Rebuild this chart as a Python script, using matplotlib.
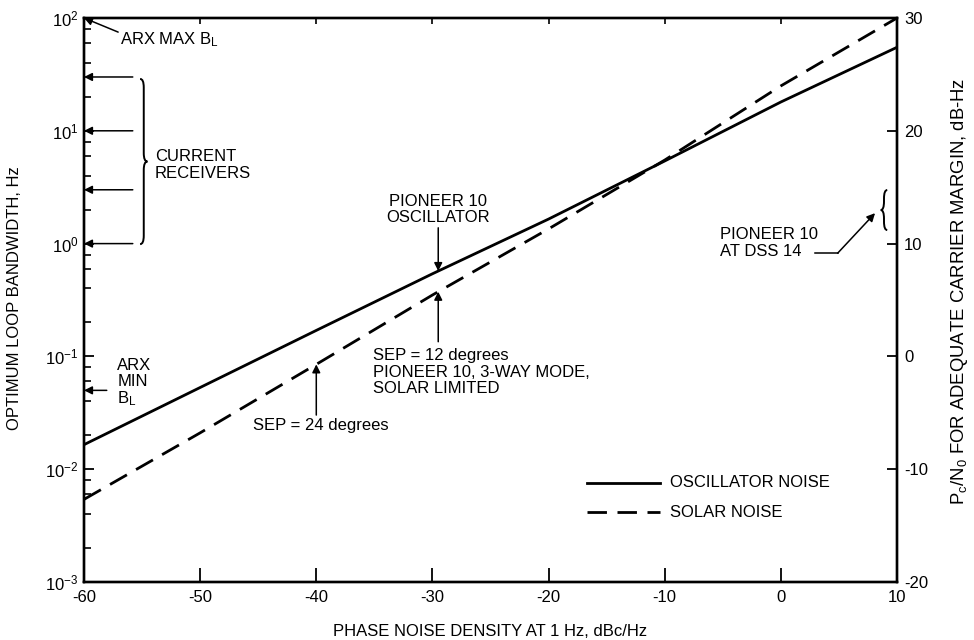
import numpy as np
import matplotlib
matplotlib.use("Agg")
import matplotlib.pyplot as plt
from matplotlib.path import Path
from matplotlib.patches import PathPatch
from matplotlib.ticker import LogLocator, NullFormatter

plt.rcParams['font.family'] = ['Liberation Sans', 'DejaVu Sans']
plt.rcParams['mathtext.default'] = 'regular'
plt.rcParams['axes.unicode_minus'] = False

# phase noise density at 1 Hz (dBc/Hz) and optimum loop bandwidth (Hz)
phase_noise = [-60, -50, -40, -30, -20, -10, 0, 10]
osc_bw = [0.0165, 0.053, 0.17, 0.54, 1.65, 5.4, 18, 55]
solar_bw = [0.0054, 0.021, 0.085, 0.35, 1.35, 5.5, 25, 100]

receiver_bw = [30, 10, 3, 1]      # current receivers
arx_min_bw = 0.05
arx_max_bw = 100
x_ticks = [-60, -50, -40, -30, -20, -10, 0, 10]
db_ticks = [-20, -10, 0, 10, 20, 30]
fs = 12


def on_curve(x, xs, ys):
    return 10 ** np.interp(x, xs, np.log10(ys))


def brace(ax, x0, y0, y1, w, lw=1.4):
    # vertical curly brace in axes coords, tip points towards +w
    a = w / 2.0
    ym = (y0 + y1) / 2.0
    d = 0.015 if y1 > y0 else -0.015
    verts = [(x0, y0), (x0 + a, y0), (x0 + a, y0 + d),
             (x0 + a, ym - d),
             (x0 + a, ym), (x0 + w, ym),
             (x0 + a, ym), (x0 + a, ym + d),
             (x0 + a, y1 - d),
             (x0 + a, y1), (x0, y1)]
    codes = [Path.MOVETO, Path.CURVE3, Path.CURVE3, Path.LINETO,
             Path.CURVE3, Path.CURVE3, Path.CURVE3, Path.CURVE3,
             Path.LINETO, Path.CURVE3, Path.CURVE3]
    ax.add_patch(PathPatch(Path(verts, codes), fill=False, lw=lw,
                           transform=ax.transAxes, clip_on=False))


fig = plt.figure(figsize=(9.74, 6.4), dpi=100)
ax = fig.add_axes([84 / 974, 1 - 582 / 640, 813 / 974, 564 / 640])

ax.plot(phase_noise, osc_bw, color='k', lw=2.0)
ax.plot(phase_noise, solar_bw, color='k', lw=2.0, dashes=(7, 3.8))

ax.set_xlim(-60, 10)
ax.set_yscale('log')
ax.set_ylim(1e-3, 1e2)
ax.set_xticks(x_ticks)
ax.set_xticklabels([str(t) for t in x_ticks])
ax.yaxis.set_minor_locator(LogLocator(base=10, subs=[2, 4, 6, 8]))
ax.yaxis.set_minor_formatter(NullFormatter())
ax.tick_params(axis='x', direction='in', length=10, width=1.3, pad=6, labelsize=fs)
ax.tick_params(axis='y', which='major', direction='in', length=7.5, width=1.3, pad=4, labelsize=fs)
ax.tick_params(axis='y', which='minor', direction='in', length=5, width=1.2)
for s in ax.spines.values():
    s.set_linewidth(1.7)

top = ax.secondary_xaxis('top')
top.set_xticks(x_ticks[1:-1])
top.xaxis.set_major_formatter(NullFormatter())
top.tick_params(direction='in', length=4.5, width=1.2)
top.spines['top'].set_linewidth(1.4)

ax2 = ax.twinx()
ax2.set_ylim(-20, 30)
ax2.set_yticks(db_ticks)
ax2.set_yticklabels([str(t) for t in db_ticks])
ax2.tick_params(axis='y', direction='in', length=7, width=1.3, pad=5, labelsize=fs)
for s in ax2.spines.values():
    s.set_linewidth(1.7)

ax.set_xlabel('PHASE NOISE DENSITY AT 1 Hz, dBc/Hz', fontsize=fs)
ax.xaxis.set_label_coords(0.5, -0.0745)
ax.set_ylabel('OPTIMUM LOOP BANDWIDTH, Hz', fontsize=fs)
ax.yaxis.set_label_coords(-0.076, 0.504)
ax2.set_ylabel('P$_c$/N$_0$ FOR ADEQUATE CARRIER MARGIN, dB-Hz', fontsize=13.3)
ax2.yaxis.set_label_coords(1.064, 0.515)

arrow = dict(arrowstyle='-|>', color='k', lw=1.1, mutation_scale=12,
             shrinkA=0, shrinkB=0)

# ARX max
ax.annotate('', xy=(-60, arx_max_bw), xytext=(0.042, 0.975),
            textcoords='axes fraction', arrowprops=arrow)
ax.text(0.044, 0.961, 'ARX MAX B$_L$', transform=ax.transAxes,
        fontsize=fs, va='center', ha='left')

# current receivers
for bw in receiver_bw:
    ax.annotate('', xy=(-60, bw), xytext=(0.060, bw),
                textcoords=('axes fraction', 'data'), arrowprops=arrow)
brace(ax, 0.069, 0.892, 0.599, 0.009)
ax.text(0.087, 0.739, 'CURRENT\nRECEIVERS', transform=ax.transAxes,
        fontsize=fs, va='center', ha='left', linespacing=1.15)

# ARX min
ax.annotate('', xy=(-60, arx_min_bw), xytext=(0.028, arx_min_bw),
            textcoords=('axes fraction', 'data'), arrowprops=arrow)
ax.text(0.041, 0.353, 'ARX\nMIN\nB$_L$', transform=ax.transAxes,
        fontsize=fs, va='center', ha='left', linespacing=1.05)

# Pioneer 10 oscillator
xp = -29.5
ax.annotate('', xy=(xp, on_curve(xp, phase_noise, osc_bw)), xytext=(xp, 0.628),
            textcoords=('data', 'axes fraction'), arrowprops=arrow)
ax.text(xp, 0.660, 'PIONEER 10\nOSCILLATOR', transform=ax.get_xaxis_transform(),
        fontsize=fs, va='center', ha='center', linespacing=1.1)

# SEP = 12 degrees
ax.annotate('', xy=(xp, on_curve(xp, phase_noise, solar_bw)), xytext=(xp, 0.426),
            textcoords=('data', 'axes fraction'), arrowprops=arrow)
ax.text(0.355, 0.372, 'SEP = 12 degrees\nPIONEER 10, 3-WAY MODE,\nSOLAR LIMITED',
        transform=ax.transAxes, fontsize=fs, va='center', ha='left', linespacing=1.15)

# SEP = 24 degrees
xs = -40
ax.annotate('', xy=(xs, on_curve(xs, phase_noise, solar_bw)), xytext=(xs, 0.296),
            textcoords=('data', 'axes fraction'), arrowprops=arrow)
ax.text(0.208, 0.278, 'SEP = 24 degrees', transform=ax.transAxes,
        fontsize=fs, va='center', ha='left')

# Pioneer 10 at DSS 14
brace(ax, 0.988, 0.695, 0.624, -0.008)
ax.plot([0.899, 0.927], [0.583, 0.583], color='k', lw=1.1, transform=ax.transAxes)
ax.annotate('', xy=(0.973, 0.654), xytext=(0.927, 0.583),
            xycoords='axes fraction', textcoords='axes fraction', arrowprops=arrow)
ax.text(0.782, 0.601, 'PIONEER 10\nAT DSS 14', transform=ax.transAxes,
        fontsize=fs, va='center', ha='left', linespacing=1.15)

# legend
ax.plot([0.619, 0.708], [0.176, 0.176], color='k', lw=2.0, transform=ax.transAxes)
ax.plot([0.619, 0.708], [0.124, 0.124], color='k', lw=2.0, dashes=(7, 3.8),
        transform=ax.transAxes)
ax.text(0.721, 0.176, 'OSCILLATOR NOISE', transform=ax.transAxes,
        fontsize=fs, va='center', ha='left')
ax.text(0.721, 0.124, 'SOLAR NOISE', transform=ax.transAxes,
        fontsize=fs, va='center', ha='left')

fig.savefig('out.png', dpi=100)
